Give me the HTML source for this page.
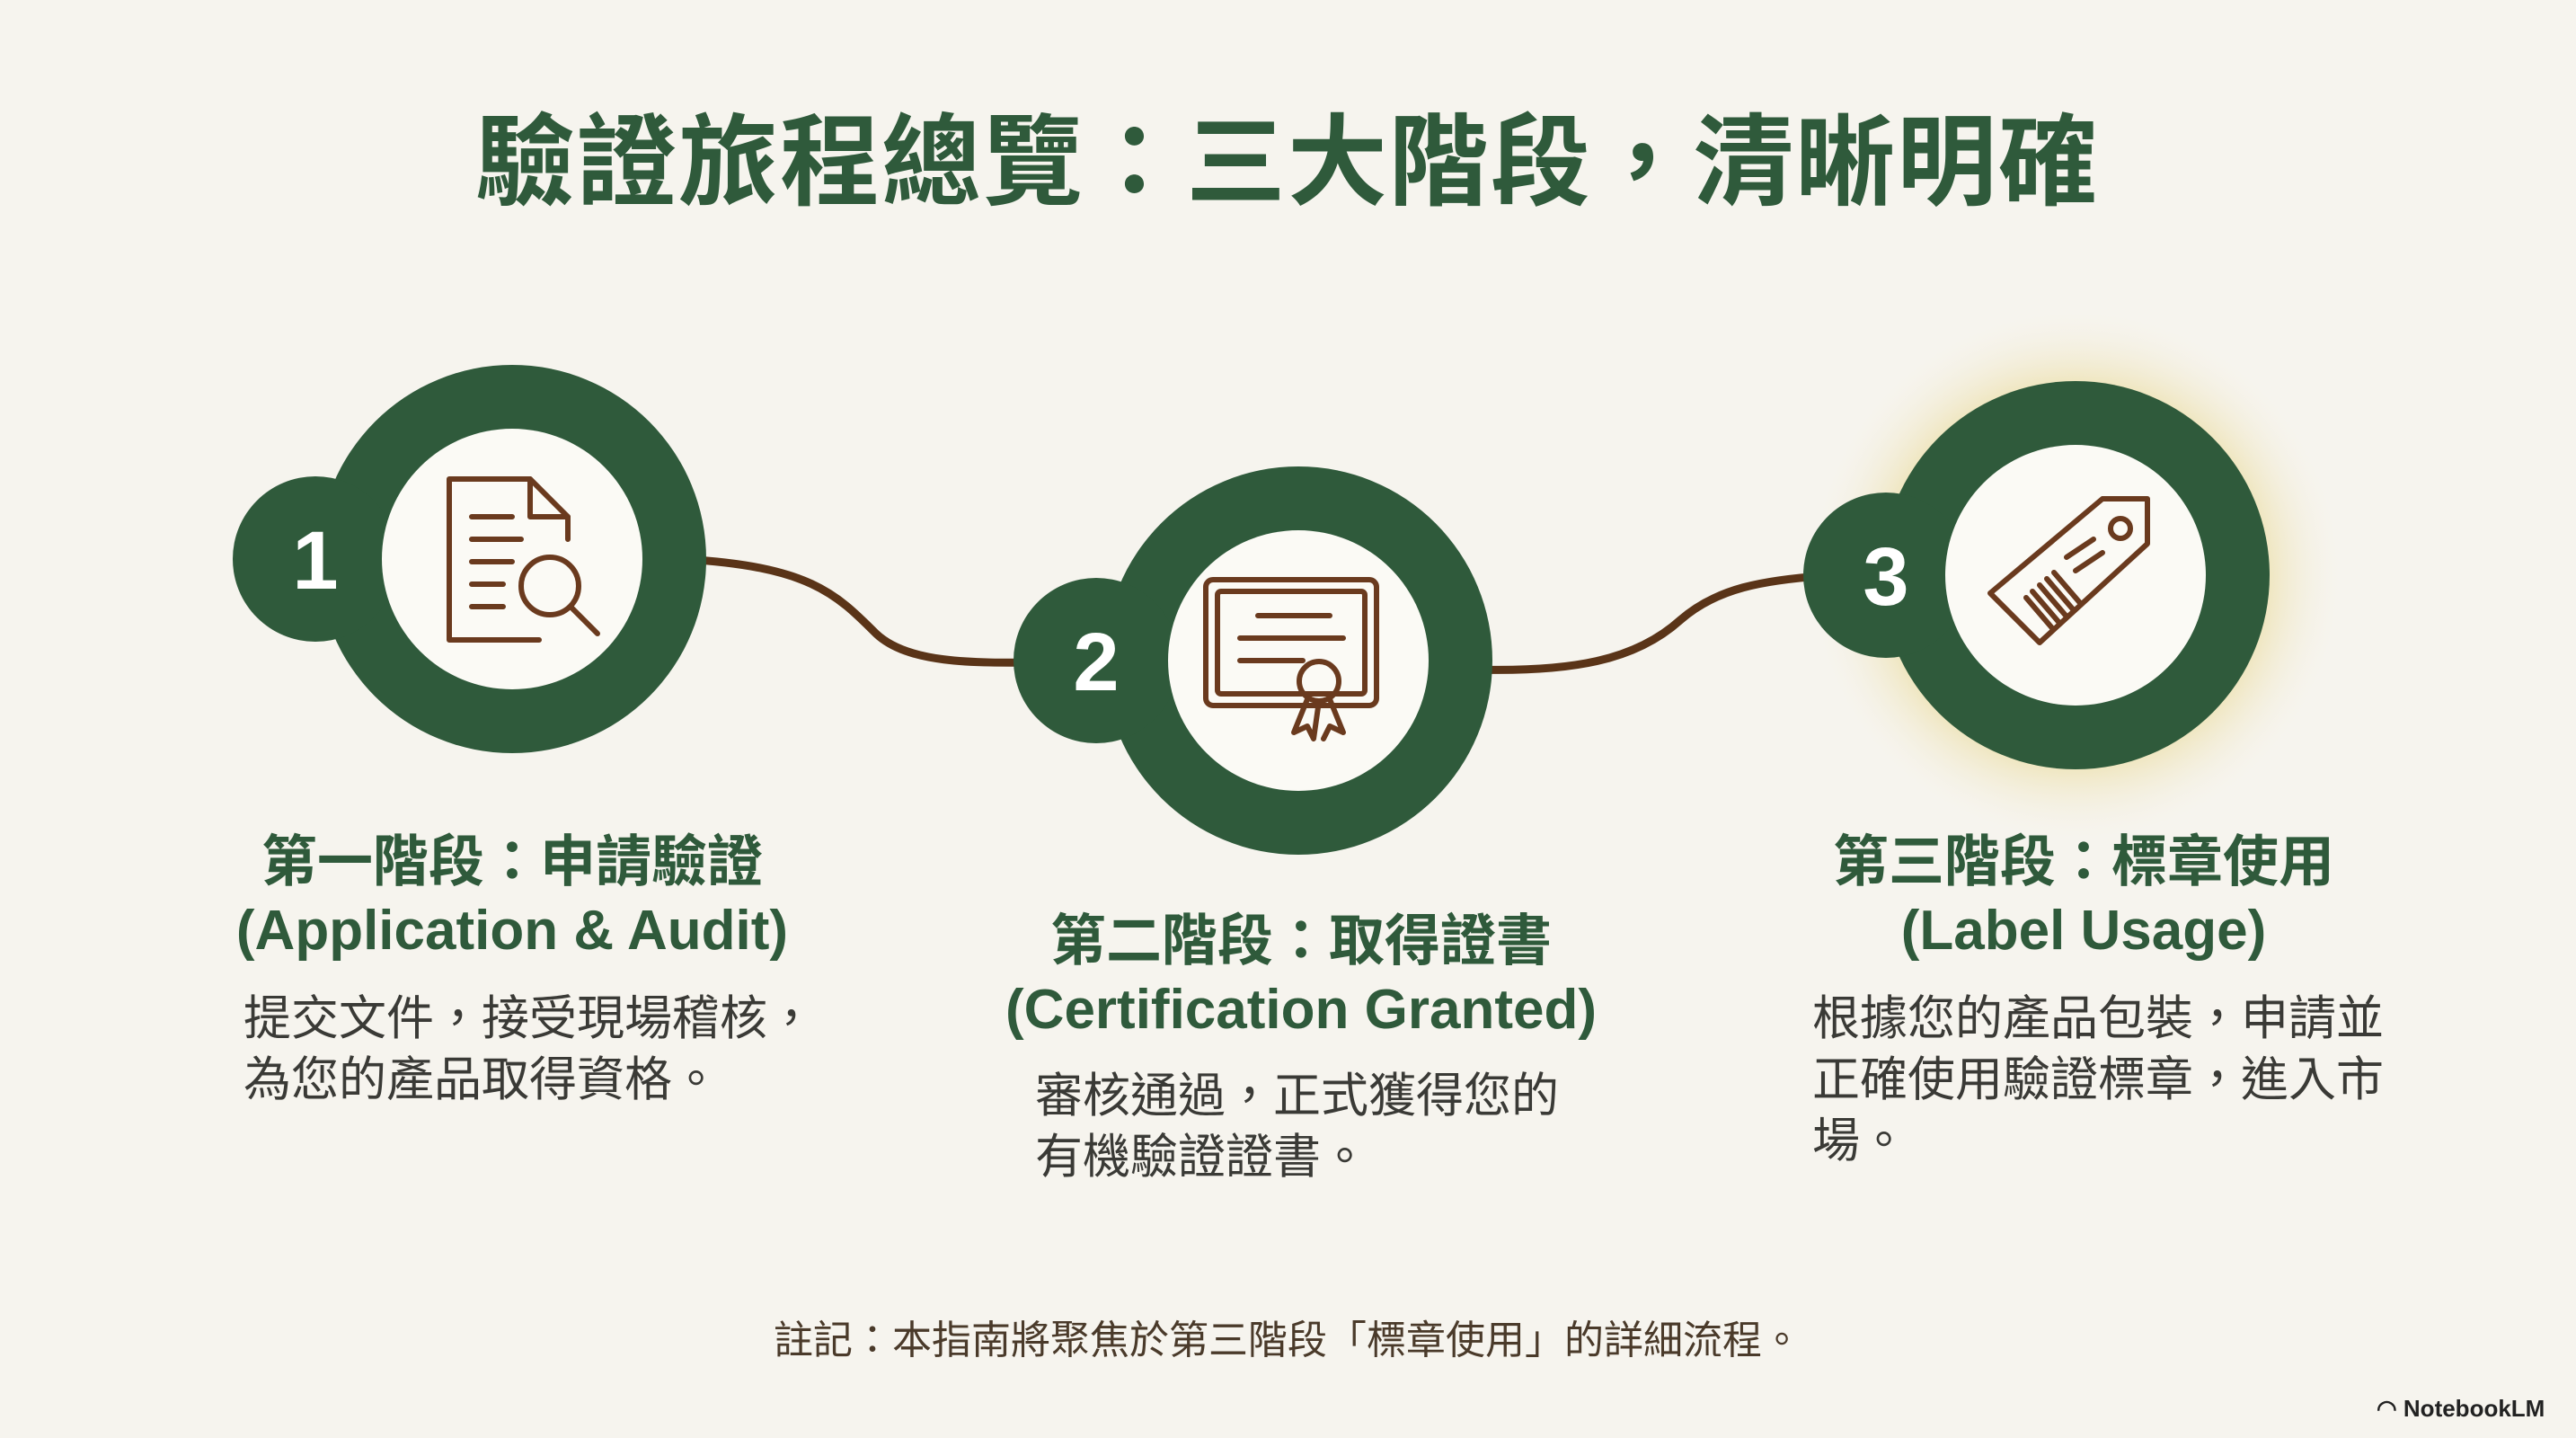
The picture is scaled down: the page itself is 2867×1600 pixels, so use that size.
<!DOCTYPE html>
<html><head><meta charset="utf-8"><style>
body{margin:0;width:2867px;height:1600px;background:#f6f4ee;overflow:hidden;position:relative;font-family:"Liberation Sans","Noto Sans CJK TC",sans-serif;}
.t{position:absolute;white-space:nowrap;}
.h{color:#2f5a3b;font-weight:bold;font-size:62px;line-height:76px;text-align:center;transform:translateX(-50%);}
.d{color:#3a3a36;font-size:53px;line-height:68px;}
</style></head><body>
<div class="t" style="left:1433px;top:90px;transform:translateX(-50%);font-size:111px;font-weight:bold;color:#2f5a3b;letter-spacing:2px;">驗證旅程總覽：三大階段，清晰明確</div>
<svg width="2867" height="1600" style="position:absolute;left:0;top:0">
<defs><radialGradient id="g"><stop offset="0.6" stop-color="#e8d68a" stop-opacity="0.9"/><stop offset="1" stop-color="#f6f4ee" stop-opacity="0"/></radialGradient></defs>
<circle cx="2310" cy="640" r="300" fill="url(#g)"/>
<path d="M760 622 C900 630 930 660 975 705 C1010 738 1080 738 1160 737" stroke="#5a3418" stroke-width="9" fill="none"/>
<path d="M1640 745 C1750 748 1820 735 1870 690 C1910 655 1960 645 2040 640" stroke="#5a3418" stroke-width="9" fill="none"/>
<g fill="#2f5a3b">
<circle cx="570" cy="622" r="216"/><circle cx="351" cy="622" r="92"/>
<circle cx="1445" cy="735" r="216"/><circle cx="1220" cy="735" r="92"/>
<circle cx="2310" cy="640" r="216"/><circle cx="2099" cy="640" r="92"/>
</g>
<g fill="#fbfaf5"><circle cx="570" cy="622" r="145"/><circle cx="1445" cy="735" r="145"/><circle cx="2310" cy="640" r="145"/></g>
<g fill="#fff" font-weight="bold" font-size="92" text-anchor="middle" font-family="Liberation Sans,sans-serif">
<text x="351" y="655">1</text><text x="1220" y="768">2</text><text x="2099" y="673">3</text></g>
<g stroke="#6a3a1e" stroke-width="6" fill="none" stroke-linejoin="round" stroke-linecap="round">
<path d="M500 533 H590 L632 575 V600 M500 533 V712 H600"/><path d="M590 533 V575 H632"/>
<path d="M525 600 H580 M525 625 H570 M525 650 H560 M525 675 H560 M525 575 H570"/>
<circle cx="612" cy="652" r="32"/><path d="M635 675 L665 705"/>
<rect x="1342" y="645" width="190" height="140" rx="8"/><rect x="1355" y="658" width="164" height="114" rx="4"/>
<path d="M1400 685 H1480 M1380 710 H1495 M1380 735 H1450"/>
<circle cx="1468" cy="758" r="22"/><path d="M1455 778 L1440 815 L1455 808 L1462 822 L1468 780 M1480 778 L1495 815 L1480 808 L1473 822"/>
<path d="M2215 660 L2340 555 L2390 555 L2390 605 L2270 715 Z"/>
<circle cx="2360" cy="588" r="11"/>
<path d="M2255 665 L2285 700 M2262 658 L2292 693 M2270 651 L2300 686 M2278 644 L2308 679 M2286 637 L2316 672 M2300 620 L2330 600 M2310 635 L2340 615"/>
</g>
</svg>
<div class="t h" style="left:570px;top:922px;">第一階段：申請驗證<br>(Application &amp; Audit)</div>
<div class="t d" style="left:271px;top:1100px;">提交文件，接受現場稽核，<br>為您的產品取得資格。</div>
<div class="t h" style="left:1448px;top:1010px;">第二階段：取得證書<br>(Certification Granted)</div>
<div class="t d" style="left:1152px;top:1186px;">審核通過，正式獲得您的<br>有機驗證證書。</div>
<div class="t h" style="left:2319px;top:922px;">第三階段：標章使用<br>(Label Usage)</div>
<div class="t d" style="left:2017px;top:1100px;">根據您的產品包裝，申請並<br>正確使用驗證標章，進入市<br>場。</div>
<div class="t" style="left:1433px;top:1455px;transform:translateX(-50%);font-size:44px;color:#4a3a2a;">註記：本指南將聚焦於第三階段「標章使用」的詳細流程。</div>
<div class="t" style="left:2645px;top:1552px;font-size:26px;font-weight:bold;color:#222;">◠ NotebookLM</div>
</body></html>
